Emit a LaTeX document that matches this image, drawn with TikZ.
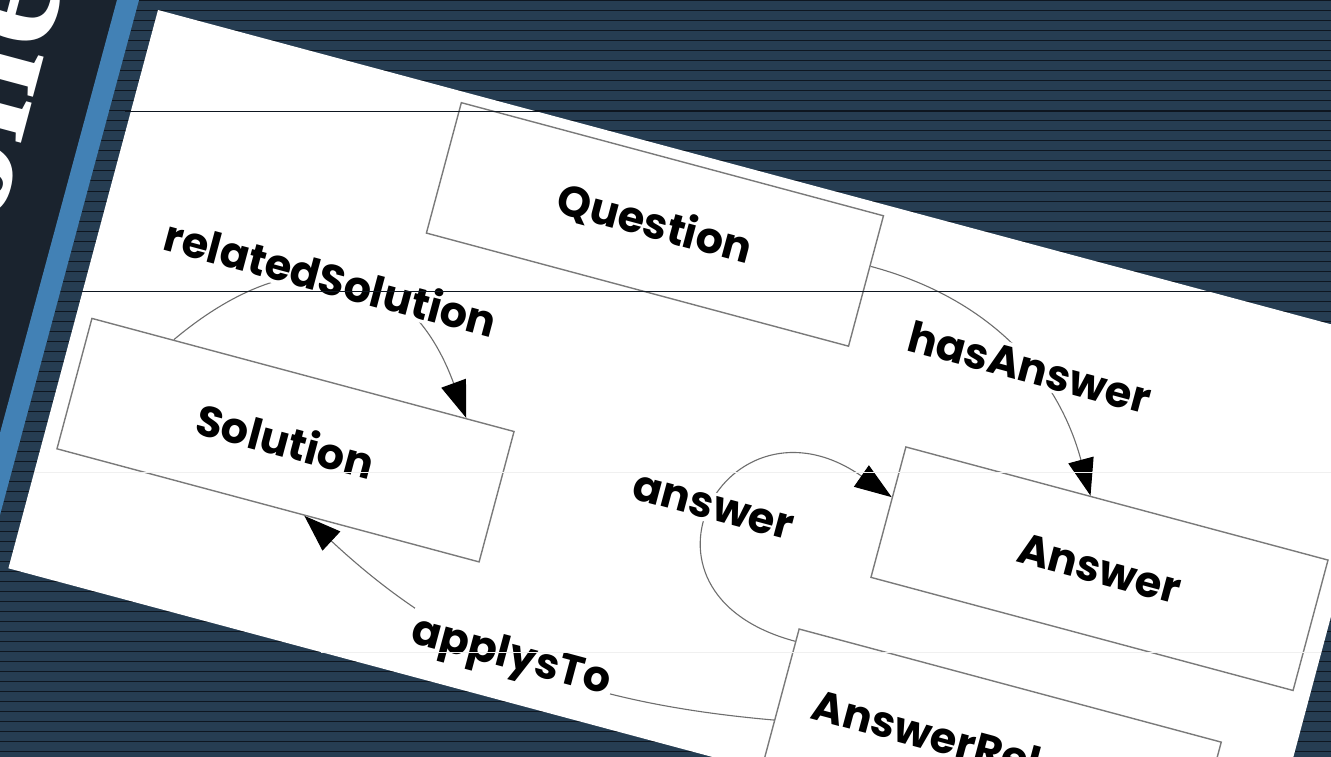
\documentclass[tikz,border=0pt]{standalone}
\usepackage{fontspec}
\setmainfont{Poppins}
\newfontfamily\titlefont{Liberation Serif}
\usetikzlibrary{arrows.meta}
\definecolor{slidebg}{HTML}{263D52}
\definecolor{slideline}{HTML}{0E1620}
\definecolor{bandbg}{HTML}{1A232E}
\definecolor{bandblue}{HTML}{4281B5}
\definecolor{boxline}{HTML}{7A7A7A}
\definecolor{edgeline}{HTML}{6E6E6E}
\tikzset{
  box/.style={draw=boxline, line width=1.4pt, fill=white, minimum width=437pt,
    minimum height=135pt, inner sep=0pt, font=\fontsize{43}{50}\selectfont\bfseries},
  lbl/.style={fill=white, inner sep=3pt, font=\fontsize{43}{50}\selectfont\bfseries},
  link/.style={draw=edgeline, line width=1.1pt, -{Triangle[length=37pt,width=26pt,color=black]}}
}
\begin{document}
\begin{tikzpicture}[x=1pt,y=1pt]
  \useasboundingbox (0,0) rectangle (1331,-757);
  \clip (0,0) rectangle (1331,-757);
  % slide background
  \fill[slidebg] (0,0) rectangle (1331,-757);
  \foreach \y in {1,11,...,751}
    \draw[slideline, line width=1pt] (0,-\y) -- (1331,-\y);
  % title band
  \fill[bandbg] (0,0) -- (117,0) -- (0,-433) -- cycle;
  \fill[bandblue] (117,0) -- (139,0) -- (0,-515) -- (0,-433) -- cycle;
  \begin{scope}
    \clip (0,0) -- (117,0) -- (0,-433) -- cycle;
    \node[white, rotate=75, anchor=base west, inner sep=0pt,
      font=\titlefont\bfseries\fontsize{172}{172}\selectfont] (title) at (-2,-230) {olle};
  \end{scope}
  % the diagram sheet
  \begin{scope}[shift={(158,-10)}, rotate=-15, transform shape]
    \fill[white] (0,0) rectangle (1290,-578);
    \node[box] (q) at (535.5,-78.5) {Question};
    \node[box] (sol) at (234.5,-382.5) {Solution};
    \node[box] (ans) at (1054,-296) {Answer};
    \node[box, text width=370pt, align=left] (arel) at (998,-499.5) {AnswerRel};
    % relations
    \draw[link] (sol.153) to[out=55,in=125,looseness=1.4] node[lbl, pos=.45] (lrs) {relatedSolution} (sol.22);
    \draw[link] (q.4) to[out=0,in=120] node[lbl, pos=.58] (lha) {hasAnswer} (ans.112);
    \draw[link] (arel.166) .. controls +(-190,0) and +(-188,68) .. node[lbl] (lan) {answer} (ans.176);
    \draw[link] (arel.187) to[out=190,in=-28] node[lbl, pos=.52] (lap) {applysTo} (sol.-61);
  \end{scope}
  % scan lines
  \draw[slideline, line width=0.8pt] (125,-111) -- (1331,-111);
  \draw[slideline, line width=0.8pt] (75,-291) -- (1331,-291);
  \draw[black!6, line width=0.8pt] (34,-472) -- (1331,-472);
  \draw[black!6, line width=0.8pt] (321,-652) -- (1321,-652);
\end{tikzpicture}
\end{document}
